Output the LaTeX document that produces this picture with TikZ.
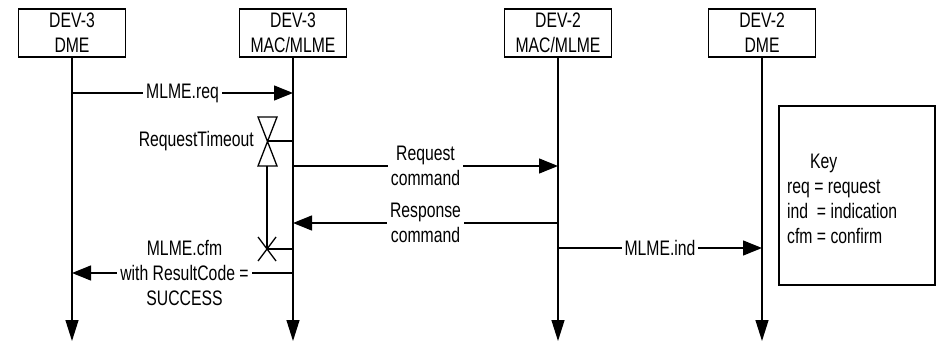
\documentclass[tikz,border=0pt]{standalone}
\usepackage{fontspec}
\setmainfont{Liberation Sans}[FakeStretch=0.75]
\usetikzlibrary{arrows.meta}
\begin{document}
\begin{tikzpicture}[x=1pt,y=-1pt,
  every node/.style={font=\fontsize{21}{25}\selectfont},
  ln/.style={line width=1.3pt},
  entity/.style={draw,line width=1.3pt,minimum width=107pt,minimum height=48pt,align=center,inner sep=0pt},
  msg/.style={line width=1.3pt,-{Triangle[length=19pt,width=15pt]}},
  life/.style={line width=1.3pt,-{Triangle[length=21pt,width=13pt]}},
  lbl/.style={fill=white,inner xsep=3pt,inner ysep=1pt,align=center}]
\useasboundingbox (0,0) rectangle (939,342);
% entities
\node[entity] (a) at (72,33) {DEV-3\\DME};
\node[entity] (b) at (293,33) {DEV-3\\MAC/MLME};
\node[entity] (c) at (558,33) {DEV-2\\MAC/MLME};
\node[entity] (d) at (762,33) {DEV-2\\DME};
% lifeline ends
\coordinate (ae) at (72,341);
\coordinate (be) at (293,341);
\coordinate (ce) at (558,341);
\coordinate (de) at (762,341);
\draw[life] (a.south) -- (ae);
\draw[life] (b.south) -- (be);
\draw[life] (c.south) -- (ce);
\draw[life] (d.south) -- (de);
% message points
\coordinate (a1) at (72,93);   \coordinate (b1) at (293,93);
\coordinate (h) at (267,141);  \coordinate (b2) at (293,141);
\coordinate (b3) at (293,166); \coordinate (c3) at (558,166);
\coordinate (c4) at (558,223); \coordinate (b4) at (293,223);
\coordinate (c5) at (558,248); \coordinate (d5) at (762,248);
\coordinate (x) at (267,249);  \coordinate (b6) at (293,249);
\coordinate (b7) at (293,273); \coordinate (a7) at (72,273);
\coordinate (hb) at (267,166);
% MLME.req
\draw[msg] (a1) -- node[lbl] (l1) {MLME.req} (b1);
% timer
\draw[ln] (258,117) -- (277,117) -- (258,166) -- (277,166) -- cycle;
\draw[ln] (h) -- (b2);
\node[anchor=east,inner sep=0pt] (rt) at (254,141) {RequestTimeout};
\draw[ln] (hb) -- (x);
\draw[ln] (258,237) -- (276,261) (258,261) -- (276,237);
\draw[ln] (x) -- (b6);
% Request / Response
\draw[msg] (b3) -- node[lbl] (l2) {Request\\command} (c3);
\draw[msg] (c4) -- node[lbl] (l3) {Response\\command} (b4);
% MLME.ind
\draw[msg] (c5) -- node[lbl] (l4) {MLME.ind} (d5);
% MLME.cfm
\draw[msg] (b7) -- node[lbl,xshift=2pt] (l5) {MLME.cfm\\with ResultCode =\\SUCCESS} (a7);
% key
\draw[ln] (779,106) rectangle (935,285);
\node[anchor=north west,align=left,inner sep=0pt] (key) at (787,154) {\hspace{23pt}Key\\req = request\\ind\ \ = indication\\cfm = confirm};
\end{tikzpicture}
\end{document}
